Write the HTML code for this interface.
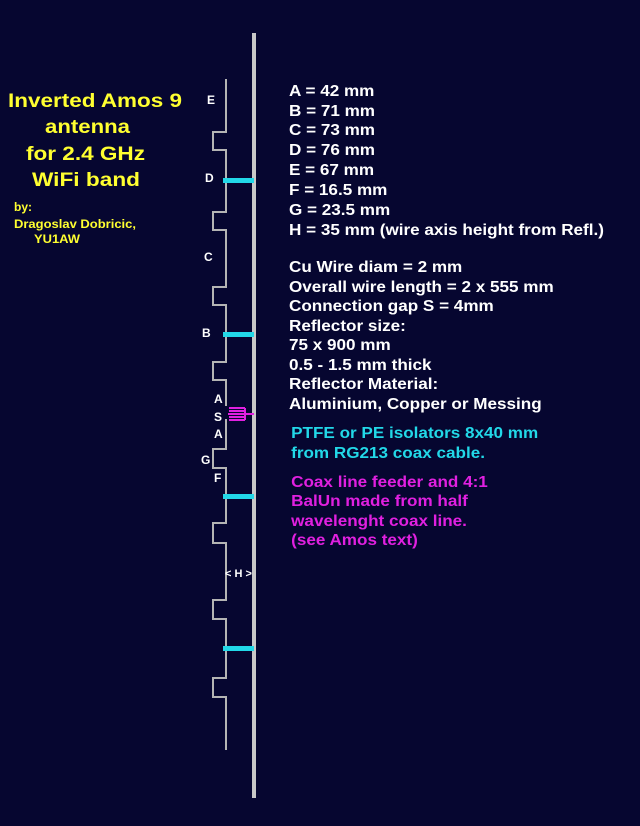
<!DOCTYPE html>
<html><head><meta charset="utf-8"><style>
html,body{margin:0;padding:0;background:#060630;}
svg{display:block}
text{font-family:"Liberation Sans",Arial,sans-serif;font-weight:bold}
</style></head><body>
<svg width="640" height="826" viewBox="0 0 640 826" xmlns="http://www.w3.org/2000/svg">
<rect width="640" height="826" fill="#060630"/>
<rect x="252" y="33" width="4" height="765" fill="#c8c8c8"/>
<g fill="none" stroke="#b4b4b4" stroke-width="2">
<polyline points="226,79 226,132 213,132 213,150 226,150 226,212 213,212 213,230 226,230 226,287 213,287 213,305 226,305 226,362 213,362 213,380 226,380 226,406"/>
<polyline points="226,419 226,449 213,449 213,468 226,468 226,523 213,523 213,543 226,543 226,600 213,600 213,619 226,619 226,678 213,678 213,697 226,697 226,750"/>
</g>
<g fill="#22d8e8">
<rect x="223" y="178" width="31" height="5"/>
<rect x="223" y="332" width="31" height="5"/>
<rect x="223" y="494" width="31" height="5"/>
<rect x="223" y="646" width="31" height="5"/>
</g>
<g stroke="#e020e0" stroke-width="2" fill="none">
<line x1="228" y1="414" x2="254" y2="414"/>
<line x1="229" y1="408" x2="245" y2="408"/>
<line x1="229" y1="411" x2="245" y2="411"/>
<line x1="229" y1="417" x2="245" y2="417"/>
<line x1="229" y1="420" x2="245" y2="420"/>
<line x1="245" y1="408" x2="245" y2="420"/>
</g>
<g fill="#ffffff" font-size="12">
<text x="207" y="104">E</text>
<text x="205" y="182">D</text>
<text x="204" y="261">C</text>
<text x="202" y="337">B</text>
<text x="214" y="403">A</text>
<text x="214" y="421">S</text>
<text x="214" y="438">A</text>
<text x="201" y="464">G</text>
<text x="214" y="482">F</text>
<text x="225" y="577" font-size="11">&lt; H &gt;</text>
</g>
<g fill="#ffff30" font-size="19">
<text x="8" y="107" textLength="174" lengthAdjust="spacingAndGlyphs">Inverted Amos 9</text>
<text x="45" y="133" textLength="85" lengthAdjust="spacingAndGlyphs">antenna</text>
<text x="26" y="160" textLength="119" lengthAdjust="spacingAndGlyphs">for 2.4 GHz</text>
<text x="32" y="186" textLength="108" lengthAdjust="spacingAndGlyphs">WiFi band</text>
</g>
<g fill="#ffff30" font-size="12">
<text x="14" y="211">by:</text>
<text x="14" y="228" textLength="122" lengthAdjust="spacingAndGlyphs">Dragoslav Dobricic,</text>
<text x="34" y="243" textLength="46" lengthAdjust="spacingAndGlyphs">YU1AW</text>
</g>
<g transform="translate(289,0) scale(1.07,1)">
<g fill="#ffffff" font-size="16">
<text x="0" y="96">A = 42 mm</text>
<text x="0" y="116">B = 71 mm</text>
<text x="0" y="135">C = 73 mm</text>
<text x="0" y="155">D = 76 mm</text>
<text x="0" y="175">E = 67 mm</text>
<text x="0" y="195">F = 16.5 mm</text>
<text x="0" y="215">G = 23.5 mm</text>
<text x="0" y="235">H = 35 mm (wire axis height from Refl.)</text>
<text x="0" y="272">Cu Wire diam = 2 mm</text>
<text x="0" y="292">Overall wire length = 2 x 555 mm</text>
<text x="0" y="311">Connection gap S = 4mm</text>
<text x="0" y="331">Reflector size:</text>
<text x="0" y="350">75 x 900 mm</text>
<text x="0" y="370">0.5 - 1.5 mm thick</text>
<text x="0" y="389">Reflector Material:</text>
<text x="0" y="409">Aluminium, Copper or Messing</text>
</g>
<g fill="#22d8e8" font-size="16">
<text x="2" y="438">PTFE or PE isolators 8x40 mm</text>
<text x="2" y="458">from RG213 coax cable.</text>
</g>
<g fill="#e020e0" font-size="16">
<text x="2" y="487">Coax line feeder and 4:1</text>
<text x="2" y="506">BalUn made from half</text>
<text x="2" y="526">wavelenght coax line.</text>
<text x="2" y="545">(see Amos text)</text>
</g>
</g>
</svg>
</body></html>
